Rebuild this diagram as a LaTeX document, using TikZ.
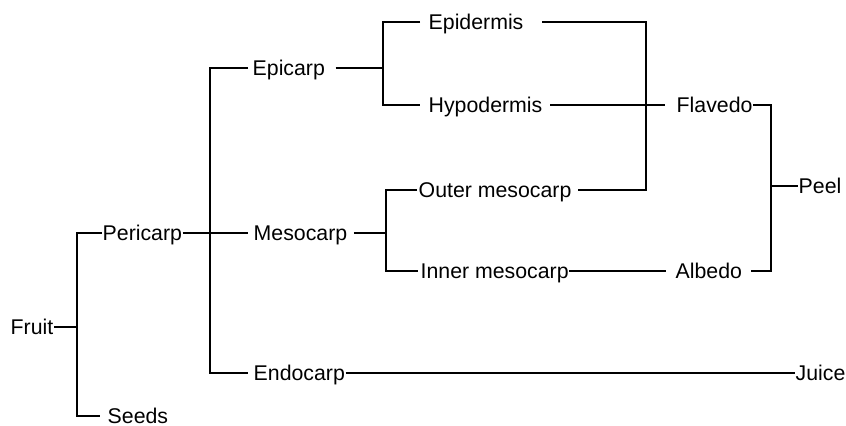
\documentclass[tikz,border=0pt]{standalone}
\usepackage{fontspec}
\setmainfont{Liberation Sans}
\begin{document}
\begin{tikzpicture}[x=0.5pt,y=-0.5pt,line width=0.7pt,
    partstyle/.style={anchor=west,inner sep=0pt,text height=7.6pt,text depth=0pt,
                      font=\fontsize{10.65}{12}\selectfont}]

    \useasboundingbox (0,0) rectangle (846,426);

    % parts ↓
    \foreach \name/\x/\y/\txt in {fruit/10/327/Fruit, pericarp/102/233/Pericarp, seeds/107/416/Seeds,
                                  epicarp/252/68/Epicarp, mesocarp/253/233/Mesocarp, endocarp/253/373/Endocarp,
                                  epidermis/428/22/Epidermis, hypodermis/428/105/Hypodermis,
                                  outermeso/418/190/Outer mesocarp, innermeso/420/271/Inner mesocarp,
                                  flavedo/676/105/Flavedo, albedo/675/271/Albedo,
                                  peel/798/186/Peel, juice/795/373/Juice}
        \node [partstyle] (\name) at (\x,\y) {\txt};

    % junctions ↓
    \foreach \name/\x/\y in {jfruit/77/327, jperi/210/233, jepi/383/68,
                             jmeso/386/233, jflav/646/105, jpeel/771/186}
        \coordinate (\name) at (\x,\y);

    % fruit ↓
    \draw (fruit.east) -- (jfruit);
    \draw [shorten >=3.5pt] (pericarp.west) -| (jfruit) |- (seeds.west);

    % pericarp ↓
    \draw (pericarp.east) -- (jperi);
    \draw [shorten <=2pt, shorten >=2.5pt] (epicarp.west) -| (jperi) |- (endocarp.west);
    \draw [shorten >=2.5pt] (jperi) -- (mesocarp.west);

    % epicarp ↓
    \draw [shorten <=5pt] (epicarp.east) -- (jepi);
    \draw [shorten <=4pt, shorten >=4pt] (epidermis.west) -| (jepi) |- (hypodermis.west);

    % mesocarp ↓
    \draw [shorten <=3pt] (mesocarp.east) -- (jmeso);
    \draw [shorten <=0.5pt, shorten >=1pt] (outermeso.west) -| (jmeso) |- (innermeso.west);

    % flavedo / albedo ↓
    \draw [shorten <=9pt, shorten >=3pt] (epidermis.east) -| (jflav) |- (outermeso.east);
    \draw [shorten <=3.5pt, shorten >=5.5pt] (hypodermis.east) -- (flavedo.west);
    \draw [shorten >=4.5pt] (innermeso.east) -- (albedo.west);

    % peel ↓
    \draw [shorten >=4pt] (flavedo.east) -| (jpeel) |- (albedo.east);
    \draw (jpeel) -- (peel.west);

    % juice ↓
    \draw (endocarp.east) -- (juice.west);

\end{tikzpicture}
\end{document}
